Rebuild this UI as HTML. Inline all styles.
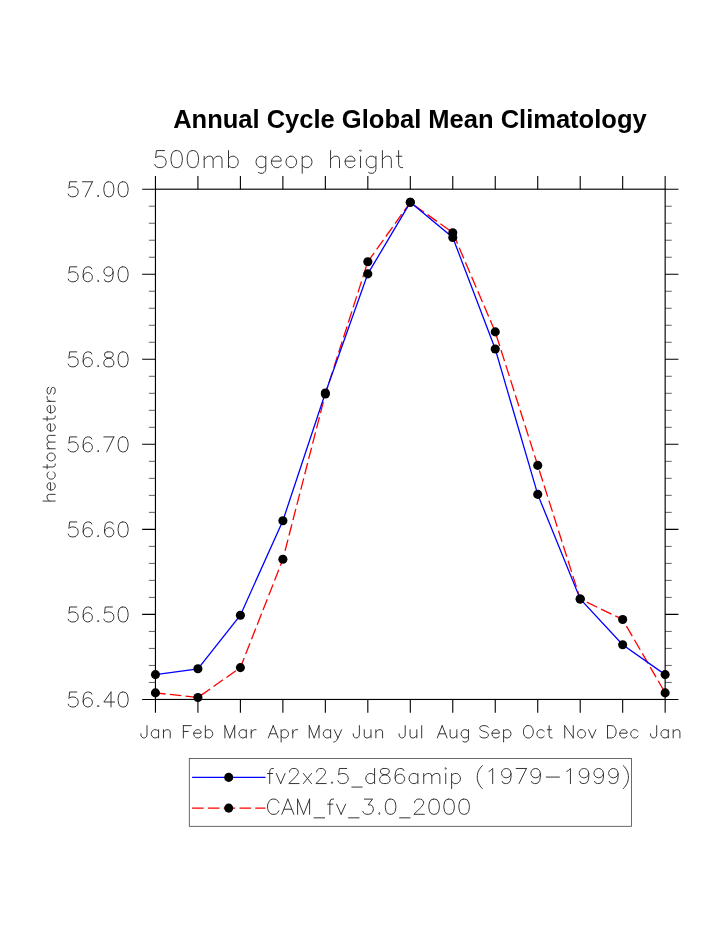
<!DOCTYPE html><html><head><meta charset="utf-8"><title>Annual Cycle Global Mean Climatology</title>
<style>html,body{margin:0;padding:0;background:#fff;}body{width:723px;height:935px;overflow:hidden;font-family:"Liberation Sans",sans-serif;}svg{display:block;will-change:transform;}</style></head><body>
<svg width="723" height="935" viewBox="0 0 723 935">
<rect width="723" height="935" fill="#fff"/>
<text x="409.9" y="128.3" text-anchor="middle" font-family="Liberation Sans, sans-serif" font-weight="bold" font-size="25.52" fill="#000">Annual Cycle Global Mean Climatology</text>
<path d="M155.45 206.21H148.85 M665.15 206.21H671.75M155.45 223.22H148.85 M665.15 223.22H671.75M155.45 240.22H148.85 M665.15 240.22H671.75M155.45 257.23H148.85 M665.15 257.23H671.75M155.45 291.25H148.85 M665.15 291.25H671.75M155.45 308.26H148.85 M665.15 308.26H671.75M155.45 325.27H148.85 M665.15 325.27H671.75M155.45 342.27H148.85 M665.15 342.27H671.75M155.45 376.29H148.85 M665.15 376.29H671.75M155.45 393.3H148.85 M665.15 393.3H671.75M155.45 410.31H148.85 M665.15 410.31H671.75M155.45 427.32H148.85 M665.15 427.32H671.75M155.45 461.33H148.85 M665.15 461.33H671.75M155.45 478.34H148.85 M665.15 478.34H671.75M155.45 495.35H148.85 M665.15 495.35H671.75M155.45 512.36H148.85 M665.15 512.36H671.75M155.45 546.38H148.85 M665.15 546.38H671.75M155.45 563.38H148.85 M665.15 563.38H671.75M155.45 580.39H148.85 M665.15 580.39H671.75M155.45 597.4H148.85 M665.15 597.4H671.75M155.45 631.42H148.85 M665.15 631.42H671.75M155.45 648.42H148.85 M665.15 648.42H671.75M155.45 665.43H148.85 M665.15 665.43H671.75M155.45 682.44H148.85 M665.15 682.44H671.75" stroke="#000" stroke-width="0.62" fill="none"/>
<path d="M155.45 189.2H142.15 M665.15 189.2H678.45M155.45 274.24H142.15 M665.15 274.24H678.45M155.45 359.28H142.15 M665.15 359.28H678.45M155.45 444.32H142.15 M665.15 444.32H678.45M155.45 529.37H142.15 M665.15 529.37H678.45M155.45 614.41H142.15 M665.15 614.41H678.45M155.45 699.45H142.15 M665.15 699.45H678.45M155.45 189.2V175.9 M155.45 699.45V712.75M197.92 189.2V175.9 M197.92 699.45V712.75M240.4 189.2V175.9 M240.4 699.45V712.75M282.88 189.2V175.9 M282.88 699.45V712.75M325.35 189.2V175.9 M325.35 699.45V712.75M367.82 189.2V175.9 M367.82 699.45V712.75M410.3 189.2V175.9 M410.3 699.45V712.75M452.77 189.2V175.9 M452.77 699.45V712.75M495.25 189.2V175.9 M495.25 699.45V712.75M537.73 189.2V175.9 M537.73 699.45V712.75M580.2 189.2V175.9 M580.2 699.45V712.75M622.67 189.2V175.9 M622.67 699.45V712.75M665.15 189.2V175.9 M665.15 699.45V712.75" stroke="#000" stroke-width="1.1" fill="none"/>
<rect x="155.45" y="189.2" width="509.7" height="510.25" fill="none" stroke="#000" stroke-width="1.15"/>
<polyline points="155.45,692.9 197.92,697.5 240.4,667.6 282.88,559.3 325.35,394 367.82,261.7 410.3,202.3 452.77,232.7 495.25,331.9 537.73,465.4 580.2,599 622.67,619.5 665.15,692.9" fill="none" stroke="#ff0000" stroke-width="1.3" stroke-dasharray="11.6 4.2" stroke-dashoffset="1.4"/>
<polyline points="155.45,674.6 197.92,668.8 240.4,615.2 282.88,520.7 325.35,393 367.82,273.9 410.3,202.3 452.77,237.5 495.25,349 537.73,494.4 580.2,599 622.67,644.7 665.15,674.6" fill="none" stroke="#0000ff" stroke-width="1.3"/>
<g fill="#000"><circle cx="155.45" cy="692.9" r="4.55"/><circle cx="197.92" cy="697.5" r="4.55"/><circle cx="240.4" cy="667.6" r="4.55"/><circle cx="282.88" cy="559.3" r="4.55"/><circle cx="325.35" cy="394" r="4.55"/><circle cx="367.82" cy="261.7" r="4.55"/><circle cx="410.3" cy="202.3" r="4.55"/><circle cx="452.77" cy="232.7" r="4.55"/><circle cx="495.25" cy="331.9" r="4.55"/><circle cx="537.73" cy="465.4" r="4.55"/><circle cx="580.2" cy="599" r="4.55"/><circle cx="622.67" cy="619.5" r="4.55"/><circle cx="665.15" cy="692.9" r="4.55"/><circle cx="155.45" cy="674.6" r="4.55"/><circle cx="197.92" cy="668.8" r="4.55"/><circle cx="240.4" cy="615.2" r="4.55"/><circle cx="282.88" cy="520.7" r="4.55"/><circle cx="325.35" cy="393" r="4.55"/><circle cx="367.82" cy="273.9" r="4.55"/><circle cx="410.3" cy="202.3" r="4.55"/><circle cx="452.77" cy="237.5" r="4.55"/><circle cx="495.25" cy="349" r="4.55"/><circle cx="537.73" cy="494.4" r="4.55"/><circle cx="580.2" cy="599" r="4.55"/><circle cx="622.67" cy="644.7" r="4.55"/><circle cx="665.15" cy="674.6" r="4.55"/></g>
<g fill="none" stroke="#2a2a2a" stroke-width="0.95" stroke-linecap="round" stroke-linejoin="round">
<g><title>500mb geop height</title><path d="M164.52 150.59 L156.42 150.59 L155.61 157.88 L156.42 157.07 L158.85 156.26 L161.28 156.26 L163.71 157.07 L165.33 158.69 L166.14 161.12 L166.14 162.74 L165.33 165.17 L163.71 166.79 L161.28 167.6 L158.85 167.6 L156.42 166.79 L155.61 165.98 L154.8 164.36M175.86 150.59 L173.43 151.4 L171.81 153.83 L171 157.88 L171 160.31 L171.81 164.36 L173.43 166.79 L175.86 167.6 L177.48 167.6 L179.91 166.79 L181.53 164.36 L182.34 160.31 L182.34 157.88 L181.53 153.83 L179.91 151.4 L177.48 150.59 L175.86 150.59M192.06 150.59 L189.63 151.4 L188.01 153.83 L187.2 157.88 L187.2 160.31 L188.01 164.36 L189.63 166.79 L192.06 167.6 L193.68 167.6 L196.11 166.79 L197.73 164.36 L198.54 160.31 L198.54 157.88 L197.73 153.83 L196.11 151.4 L193.68 150.59 L192.06 150.59M204.21 156.26 L204.21 167.6M204.21 159.5 L206.64 157.07 L208.26 156.26 L210.69 156.26 L212.31 157.07 L213.12 159.5 L213.12 167.6M213.12 159.5 L215.55 157.07 L217.17 156.26 L219.6 156.26 L221.22 157.07 L222.03 159.5 L222.03 167.6M228.51 150.59 L228.51 167.6M228.51 158.69 L230.13 157.07 L231.75 156.26 L234.18 156.26 L235.8 157.07 L237.42 158.69 L238.23 161.12 L238.23 162.74 L237.42 165.17 L235.8 166.79 L234.18 167.6 L231.75 167.6 L230.13 166.79 L228.51 165.17M265.77 156.26 L265.77 169.22 L264.96 171.65 L264.15 172.46 L262.53 173.27 L260.1 173.27 L258.48 172.46M265.77 158.69 L264.15 157.07 L262.53 156.26 L260.1 156.26 L258.48 157.07 L256.86 158.69 L256.05 161.12 L256.05 162.74 L256.86 165.17 L258.48 166.79 L260.1 167.6 L262.53 167.6 L264.15 166.79 L265.77 165.17M271.44 161.12 L281.16 161.12 L281.16 159.5 L280.35 157.88 L279.54 157.07 L277.92 156.26 L275.49 156.26 L273.87 157.07 L272.25 158.69 L271.44 161.12 L271.44 162.74 L272.25 165.17 L273.87 166.79 L275.49 167.6 L277.92 167.6 L279.54 166.79 L281.16 165.17M290.07 156.26 L288.45 157.07 L286.83 158.69 L286.02 161.12 L286.02 162.74 L286.83 165.17 L288.45 166.79 L290.07 167.6 L292.5 167.6 L294.12 166.79 L295.74 165.17 L296.55 162.74 L296.55 161.12 L295.74 158.69 L294.12 157.07 L292.5 156.26 L290.07 156.26M302.22 156.26 L302.22 173.27M302.22 158.69 L303.84 157.07 L305.46 156.26 L307.89 156.26 L309.51 157.07 L311.13 158.69 L311.94 161.12 L311.94 162.74 L311.13 165.17 L309.51 166.79 L307.89 167.6 L305.46 167.6 L303.84 166.79 L302.22 165.17M330.57 150.59 L330.57 167.6M330.57 159.5 L333 157.07 L334.62 156.26 L337.05 156.26 L338.67 157.07 L339.48 159.5 L339.48 167.6M345.15 161.12 L354.87 161.12 L354.87 159.5 L354.06 157.88 L353.25 157.07 L351.63 156.26 L349.2 156.26 L347.58 157.07 L345.96 158.69 L345.15 161.12 L345.15 162.74 L345.96 165.17 L347.58 166.79 L349.2 167.6 L351.63 167.6 L353.25 166.79 L354.87 165.17M359.73 150.59 L360.54 151.4 L361.35 150.59 L360.54 149.78 L359.73 150.59M360.54 156.26 L360.54 167.6M375.93 156.26 L375.93 169.22 L375.12 171.65 L374.31 172.46 L372.69 173.27 L370.26 173.27 L368.64 172.46M375.93 158.69 L374.31 157.07 L372.69 156.26 L370.26 156.26 L368.64 157.07 L367.02 158.69 L366.21 161.12 L366.21 162.74 L367.02 165.17 L368.64 166.79 L370.26 167.6 L372.69 167.6 L374.31 166.79 L375.93 165.17M382.41 150.59 L382.41 167.6M382.41 159.5 L384.84 157.07 L386.46 156.26 L388.89 156.26 L390.51 157.07 L391.32 159.5 L391.32 167.6M398.61 150.59 L398.61 164.36 L399.42 166.79 L401.04 167.6 L402.66 167.6M396.18 156.26 L401.85 156.26"/></g>
<g><title>57.00</title><path d="M76.76 181.78 L69.63 181.78 L68.92 188.19 L69.63 187.48 L71.77 186.77 L73.91 186.77 L76.05 187.48 L77.48 188.91 L78.19 191.05 L78.19 192.47 L77.48 194.61 L76.05 196.04 L73.91 196.75 L71.77 196.75 L69.63 196.04 L68.92 195.32 L68.21 193.9M92.45 181.78 L85.32 196.75M82.47 181.78 L92.45 181.78M98.15 195.32 L97.44 196.04 L98.15 196.75 L98.87 196.04 L98.15 195.32M108.14 181.78 L106 182.49 L104.57 184.63 L103.86 188.19 L103.86 190.33 L104.57 193.9 L106 196.04 L108.14 196.75 L109.56 196.75 L111.7 196.04 L113.13 193.9 L113.84 190.33 L113.84 188.19 L113.13 184.63 L111.7 182.49 L109.56 181.78 L108.14 181.78M122.4 181.78 L120.26 182.49 L118.83 184.63 L118.12 188.19 L118.12 190.33 L118.83 193.9 L120.26 196.04 L122.4 196.75 L123.82 196.75 L125.96 196.04 L127.39 193.9 L128.1 190.33 L128.1 188.19 L127.39 184.63 L125.96 182.49 L123.82 181.78 L122.4 181.78"/></g>
<g><title>56.90</title><path d="M76.76 266.82 L69.63 266.82 L68.92 273.24 L69.63 272.52 L71.77 271.81 L73.91 271.81 L76.05 272.52 L77.48 273.95 L78.19 276.09 L78.19 277.51 L77.48 279.65 L76.05 281.08 L73.91 281.79 L71.77 281.79 L69.63 281.08 L68.92 280.37 L68.21 278.94M91.74 268.96 L91.02 267.53 L88.88 266.82 L87.46 266.82 L85.32 267.53 L83.89 269.67 L83.18 273.24 L83.18 276.8 L83.89 279.65 L85.32 281.08 L87.46 281.79 L88.17 281.79 L90.31 281.08 L91.74 279.65 L92.45 277.51 L92.45 276.8 L91.74 274.66 L90.31 273.24 L88.17 272.52 L87.46 272.52 L85.32 273.24 L83.89 274.66 L83.18 276.8M98.15 280.37 L97.44 281.08 L98.15 281.79 L98.87 281.08 L98.15 280.37M113.13 271.81 L112.41 273.95 L110.99 275.37 L108.85 276.09 L108.14 276.09 L106 275.37 L104.57 273.95 L103.86 271.81 L103.86 271.1 L104.57 268.96 L106 267.53 L108.14 266.82 L108.85 266.82 L110.99 267.53 L112.41 268.96 L113.13 271.81 L113.13 275.37 L112.41 278.94 L110.99 281.08 L108.85 281.79 L107.42 281.79 L105.28 281.08 L104.57 279.65M122.4 266.82 L120.26 267.53 L118.83 269.67 L118.12 273.24 L118.12 275.37 L118.83 278.94 L120.26 281.08 L122.4 281.79 L123.82 281.79 L125.96 281.08 L127.39 278.94 L128.1 275.37 L128.1 273.24 L127.39 269.67 L125.96 267.53 L123.82 266.82 L122.4 266.82"/></g>
<g><title>56.80</title><path d="M76.76 351.86 L69.63 351.86 L68.92 358.28 L69.63 357.56 L71.77 356.85 L73.91 356.85 L76.05 357.56 L77.48 358.99 L78.19 361.13 L78.19 362.56 L77.48 364.69 L76.05 366.12 L73.91 366.83 L71.77 366.83 L69.63 366.12 L68.92 365.41 L68.21 363.98M91.74 354 L91.02 352.57 L88.88 351.86 L87.46 351.86 L85.32 352.57 L83.89 354.71 L83.18 358.28 L83.18 361.84 L83.89 364.69 L85.32 366.12 L87.46 366.83 L88.17 366.83 L90.31 366.12 L91.74 364.69 L92.45 362.56 L92.45 361.84 L91.74 359.7 L90.31 358.28 L88.17 357.56 L87.46 357.56 L85.32 358.28 L83.89 359.7 L83.18 361.84M98.15 365.41 L97.44 366.12 L98.15 366.83 L98.87 366.12 L98.15 365.41M107.42 351.86 L105.28 352.57 L104.57 354 L104.57 355.43 L105.28 356.85 L106.71 357.56 L109.56 358.28 L111.7 358.99 L113.13 360.42 L113.84 361.84 L113.84 363.98 L113.13 365.41 L112.41 366.12 L110.27 366.83 L107.42 366.83 L105.28 366.12 L104.57 365.41 L103.86 363.98 L103.86 361.84 L104.57 360.42 L106 358.99 L108.14 358.28 L110.99 357.56 L112.41 356.85 L113.13 355.43 L113.13 354 L112.41 352.57 L110.27 351.86 L107.42 351.86M122.4 351.86 L120.26 352.57 L118.83 354.71 L118.12 358.28 L118.12 360.42 L118.83 363.98 L120.26 366.12 L122.4 366.83 L123.82 366.83 L125.96 366.12 L127.39 363.98 L128.1 360.42 L128.1 358.28 L127.39 354.71 L125.96 352.57 L123.82 351.86 L122.4 351.86"/></g>
<g><title>56.70</title><path d="M76.76 436.9 L69.63 436.9 L68.92 443.32 L69.63 442.61 L71.77 441.89 L73.91 441.89 L76.05 442.61 L77.48 444.03 L78.19 446.17 L78.19 447.6 L77.48 449.74 L76.05 451.16 L73.91 451.88 L71.77 451.88 L69.63 451.16 L68.92 450.45 L68.21 449.02M91.74 439.04 L91.02 437.62 L88.88 436.9 L87.46 436.9 L85.32 437.62 L83.89 439.75 L83.18 443.32 L83.18 446.88 L83.89 449.74 L85.32 451.16 L87.46 451.88 L88.17 451.88 L90.31 451.16 L91.74 449.74 L92.45 447.6 L92.45 446.88 L91.74 444.75 L90.31 443.32 L88.17 442.61 L87.46 442.61 L85.32 443.32 L83.89 444.75 L83.18 446.88M98.15 450.45 L97.44 451.16 L98.15 451.88 L98.87 451.16 L98.15 450.45M113.84 436.9 L106.71 451.88M103.86 436.9 L113.84 436.9M122.4 436.9 L120.26 437.62 L118.83 439.75 L118.12 443.32 L118.12 445.46 L118.83 449.02 L120.26 451.16 L122.4 451.88 L123.82 451.88 L125.96 451.16 L127.39 449.02 L128.1 445.46 L128.1 443.32 L127.39 439.75 L125.96 437.62 L123.82 436.9 L122.4 436.9"/></g>
<g><title>56.60</title><path d="M76.76 521.94 L69.63 521.94 L68.92 528.36 L69.63 527.65 L71.77 526.93 L73.91 526.93 L76.05 527.65 L77.48 529.07 L78.19 531.21 L78.19 532.64 L77.48 534.78 L76.05 536.2 L73.91 536.92 L71.77 536.92 L69.63 536.2 L68.92 535.49 L68.21 534.06M91.74 524.08 L91.02 522.66 L88.88 521.94 L87.46 521.94 L85.32 522.66 L83.89 524.8 L83.18 528.36 L83.18 531.93 L83.89 534.78 L85.32 536.2 L87.46 536.92 L88.17 536.92 L90.31 536.2 L91.74 534.78 L92.45 532.64 L92.45 531.93 L91.74 529.79 L90.31 528.36 L88.17 527.65 L87.46 527.65 L85.32 528.36 L83.89 529.79 L83.18 531.93M98.15 535.49 L97.44 536.2 L98.15 536.92 L98.87 536.2 L98.15 535.49M113.13 524.08 L112.41 522.66 L110.27 521.94 L108.85 521.94 L106.71 522.66 L105.28 524.8 L104.57 528.36 L104.57 531.93 L105.28 534.78 L106.71 536.2 L108.85 536.92 L109.56 536.92 L111.7 536.2 L113.13 534.78 L113.84 532.64 L113.84 531.93 L113.13 529.79 L111.7 528.36 L109.56 527.65 L108.85 527.65 L106.71 528.36 L105.28 529.79 L104.57 531.93M122.4 521.94 L120.26 522.66 L118.83 524.8 L118.12 528.36 L118.12 530.5 L118.83 534.06 L120.26 536.2 L122.4 536.92 L123.82 536.92 L125.96 536.2 L127.39 534.06 L128.1 530.5 L128.1 528.36 L127.39 524.8 L125.96 522.66 L123.82 521.94 L122.4 521.94"/></g>
<g><title>56.50</title><path d="M76.76 606.99 L69.63 606.99 L68.92 613.4 L69.63 612.69 L71.77 611.98 L73.91 611.98 L76.05 612.69 L77.48 614.12 L78.19 616.25 L78.19 617.68 L77.48 619.82 L76.05 621.25 L73.91 621.96 L71.77 621.96 L69.63 621.25 L68.92 620.53 L68.21 619.11M91.74 609.12 L91.02 607.7 L88.88 606.99 L87.46 606.99 L85.32 607.7 L83.89 609.84 L83.18 613.4 L83.18 616.97 L83.89 619.82 L85.32 621.25 L87.46 621.96 L88.17 621.96 L90.31 621.25 L91.74 619.82 L92.45 617.68 L92.45 616.97 L91.74 614.83 L90.31 613.4 L88.17 612.69 L87.46 612.69 L85.32 613.4 L83.89 614.83 L83.18 616.97M98.15 620.53 L97.44 621.25 L98.15 621.96 L98.87 621.25 L98.15 620.53M112.41 606.99 L105.28 606.99 L104.57 613.4 L105.28 612.69 L107.42 611.98 L109.56 611.98 L111.7 612.69 L113.13 614.12 L113.84 616.25 L113.84 617.68 L113.13 619.82 L111.7 621.25 L109.56 621.96 L107.42 621.96 L105.28 621.25 L104.57 620.53 L103.86 619.11M122.4 606.99 L120.26 607.7 L118.83 609.84 L118.12 613.4 L118.12 615.54 L118.83 619.11 L120.26 621.25 L122.4 621.96 L123.82 621.96 L125.96 621.25 L127.39 619.11 L128.1 615.54 L128.1 613.4 L127.39 609.84 L125.96 607.7 L123.82 606.99 L122.4 606.99"/></g>
<g><title>56.40</title><path d="M76.76 692.03 L69.63 692.03 L68.92 698.44 L69.63 697.73 L71.77 697.02 L73.91 697.02 L76.05 697.73 L77.48 699.16 L78.19 701.3 L78.19 702.72 L77.48 704.86 L76.05 706.29 L73.91 707 L71.77 707 L69.63 706.29 L68.92 705.57 L68.21 704.15M91.74 694.17 L91.02 692.74 L88.88 692.03 L87.46 692.03 L85.32 692.74 L83.89 694.88 L83.18 698.44 L83.18 702.01 L83.89 704.86 L85.32 706.29 L87.46 707 L88.17 707 L90.31 706.29 L91.74 704.86 L92.45 702.72 L92.45 702.01 L91.74 699.87 L90.31 698.44 L88.17 697.73 L87.46 697.73 L85.32 698.44 L83.89 699.87 L83.18 702.01M98.15 705.57 L97.44 706.29 L98.15 707 L98.87 706.29 L98.15 705.57M110.99 692.03 L103.86 702.01 L114.55 702.01M110.99 692.03 L110.99 707M122.4 692.03 L120.26 692.74 L118.83 694.88 L118.12 698.44 L118.12 700.58 L118.83 704.15 L120.26 706.29 L122.4 707 L123.82 707 L125.96 706.29 L127.39 704.15 L128.1 700.58 L128.1 698.44 L127.39 694.88 L125.96 692.74 L123.82 692.03 L122.4 692.03"/></g>
<g><title>Jan</title><path d="M147 725.64 L147 734.98 L146.38 736.73 L145.77 737.32 L144.55 737.9 L143.33 737.9 L142.11 737.32 L141.5 736.73 L140.89 734.98 L140.89 733.81M158.6 729.72 L158.6 737.9M158.6 731.48 L157.38 730.31 L156.16 729.72 L154.33 729.72 L153.11 730.31 L151.88 731.48 L151.27 733.23 L151.27 734.4 L151.88 736.15 L153.11 737.32 L154.33 737.9 L156.16 737.9 L157.38 737.32 L158.6 736.15M163.49 729.72 L163.49 737.9M163.49 732.06 L165.33 730.31 L166.55 729.72 L168.38 729.72 L169.6 730.31 L170.21 732.06 L170.21 737.9"/></g>
<g><title>Feb</title><path d="M183.36 725.64 L183.36 737.9M183.36 725.64 L191.3 725.64M183.36 731.48 L188.25 731.48M193.75 733.23 L201.08 733.23 L201.08 732.06 L200.47 730.89 L199.86 730.31 L198.64 729.72 L196.8 729.72 L195.58 730.31 L194.36 731.48 L193.75 733.23 L193.75 734.4 L194.36 736.15 L195.58 737.32 L196.8 737.9 L198.64 737.9 L199.86 737.32 L201.08 736.15M205.36 725.64 L205.36 737.9M205.36 731.48 L206.58 730.31 L207.8 729.72 L209.63 729.72 L210.86 730.31 L212.08 731.48 L212.69 733.23 L212.69 734.4 L212.08 736.15 L210.86 737.32 L209.63 737.9 L207.8 737.9 L206.58 737.32 L205.36 736.15"/></g>
<g><title>Mar</title><path d="M224.92 725.64 L224.92 737.9M224.92 725.64 L229.81 737.9M234.7 725.64 L229.81 737.9M234.7 725.64 L234.7 737.9M246.3 729.72 L246.3 737.9M246.3 731.48 L245.08 730.31 L243.86 729.72 L242.03 729.72 L240.81 730.31 L239.58 731.48 L238.97 733.23 L238.97 734.4 L239.58 736.15 L240.81 737.32 L242.03 737.9 L243.86 737.9 L245.08 737.32 L246.3 736.15M251.19 729.72 L251.19 737.9M251.19 733.23 L251.8 731.48 L253.03 730.31 L254.25 729.72 L256.08 729.72"/></g>
<g><title>Apr</title><path d="M273.2 725.64 L268.31 737.9M273.2 725.64 L278.09 737.9M270.14 733.81 L276.25 733.81M281.14 729.72 L281.14 741.99M281.14 731.48 L282.36 730.31 L283.59 729.72 L285.42 729.72 L286.64 730.31 L287.86 731.48 L288.47 733.23 L288.47 734.4 L287.86 736.15 L286.64 737.32 L285.42 737.9 L283.59 737.9 L282.36 737.32 L281.14 736.15M292.75 729.72 L292.75 737.9M292.75 733.23 L293.36 731.48 L294.58 730.31 L295.81 729.72 L297.64 729.72"/></g>
<g><title>May</title><path d="M309.26 725.64 L309.26 737.9M309.26 725.64 L314.15 737.9M319.03 725.64 L314.15 737.9M319.03 725.64 L319.03 737.9M330.64 729.72 L330.64 737.9M330.64 731.48 L329.42 730.31 L328.2 729.72 L326.37 729.72 L325.14 730.31 L323.92 731.48 L323.31 733.23 L323.31 734.4 L323.92 736.15 L325.14 737.32 L326.37 737.9 L328.2 737.9 L329.42 737.32 L330.64 736.15M334.31 729.72 L337.98 737.9M341.64 729.72 L337.98 737.9 L336.75 740.24 L335.53 741.4 L334.31 741.99 L333.7 741.99"/></g>
<g><title>Jun</title><path d="M359.37 725.64 L359.37 734.98 L358.76 736.73 L358.15 737.32 L356.93 737.9 L355.7 737.9 L354.48 737.32 L353.87 736.73 L353.26 734.98 L353.26 733.81M364.26 729.72 L364.26 735.56 L364.87 737.32 L366.09 737.9 L367.93 737.9 L369.15 737.32 L370.98 735.56M370.98 729.72 L370.98 737.9M375.87 729.72 L375.87 737.9M375.87 732.06 L377.7 730.31 L378.92 729.72 L380.76 729.72 L381.98 730.31 L382.59 732.06 L382.59 737.9"/></g>
<g><title>Jul</title><path d="M405.21 725.64 L405.21 734.98 L404.6 736.73 L403.98 737.32 L402.76 737.9 L401.54 737.9 L400.32 737.32 L399.71 736.73 L399.1 734.98 L399.1 733.81M410.09 729.72 L410.09 735.56 L410.71 737.32 L411.93 737.9 L413.76 737.9 L414.98 737.32 L416.82 735.56M416.82 729.72 L416.82 737.9M421.7 725.64 L421.7 737.9"/></g>
<g><title>Aug</title><path d="M442.18 725.64 L437.29 737.9M442.18 725.64 L447.07 737.9M439.13 733.81 L445.24 733.81M450.13 729.72 L450.13 735.56 L450.74 737.32 L451.96 737.9 L453.79 737.9 L455.01 737.32 L456.85 735.56M456.85 729.72 L456.85 737.9M468.46 729.72 L468.46 739.07 L467.84 740.82 L467.23 741.4 L466.01 741.99 L464.18 741.99 L462.96 741.4M468.46 731.48 L467.23 730.31 L466.01 729.72 L464.18 729.72 L462.96 730.31 L461.73 731.48 L461.12 733.23 L461.12 734.4 L461.73 736.15 L462.96 737.32 L464.18 737.9 L466.01 737.9 L467.23 737.32 L468.46 736.15"/></g>
<g><title>Sep</title><path d="M488.32 727.39 L487.1 726.22 L485.27 725.64 L482.82 725.64 L480.99 726.22 L479.77 727.39 L479.77 728.56 L480.38 729.72 L480.99 730.31 L482.21 730.89 L485.88 732.06 L487.1 732.64 L487.71 733.23 L488.32 734.4 L488.32 736.15 L487.1 737.32 L485.27 737.9 L482.82 737.9 L480.99 737.32 L479.77 736.15M491.99 733.23 L499.32 733.23 L499.32 732.06 L498.71 730.89 L498.1 730.31 L496.88 729.72 L495.04 729.72 L493.82 730.31 L492.6 731.48 L491.99 733.23 L491.99 734.4 L492.6 736.15 L493.82 737.32 L495.04 737.9 L496.88 737.9 L498.1 737.32 L499.32 736.15M503.6 729.72 L503.6 741.99M503.6 731.48 L504.82 730.31 L506.04 729.72 L507.88 729.72 L509.1 730.31 L510.32 731.48 L510.93 733.23 L510.93 734.4 L510.32 736.15 L509.1 737.32 L507.88 737.9 L506.04 737.9 L504.82 737.32 L503.6 736.15"/></g>
<g><title>Oct</title><path d="M527.13 725.64 L525.91 726.22 L524.69 727.39 L524.08 728.56 L523.47 730.31 L523.47 733.23 L524.08 734.98 L524.69 736.15 L525.91 737.32 L527.13 737.9 L529.58 737.9 L530.8 737.32 L532.02 736.15 L532.63 734.98 L533.24 733.23 L533.24 730.31 L532.63 728.56 L532.02 727.39 L530.8 726.22 L529.58 725.64 L527.13 725.64M544.24 731.48 L543.02 730.31 L541.8 729.72 L539.96 729.72 L538.74 730.31 L537.52 731.48 L536.91 733.23 L536.91 734.4 L537.52 736.15 L538.74 737.32 L539.96 737.9 L541.8 737.9 L543.02 737.32 L544.24 736.15M549.13 725.64 L549.13 735.56 L549.74 737.32 L550.96 737.9 L552.18 737.9M547.3 729.72 L551.57 729.72"/></g>
<g><title>Nov</title><path d="M564.72 725.64 L564.72 737.9M564.72 725.64 L573.27 737.9M573.27 725.64 L573.27 737.9M580.61 729.72 L579.38 730.31 L578.16 731.48 L577.55 733.23 L577.55 734.4 L578.16 736.15 L579.38 737.32 L580.61 737.9 L582.44 737.9 L583.66 737.32 L584.88 736.15 L585.49 734.4 L585.49 733.23 L584.88 731.48 L583.66 730.31 L582.44 729.72 L580.61 729.72M588.55 729.72 L592.21 737.9M595.88 729.72 L592.21 737.9"/></g>
<g><title>Dec</title><path d="M607.5 725.64 L607.5 737.9M607.5 725.64 L611.78 725.64 L613.61 726.22 L614.83 727.39 L615.44 728.56 L616.05 730.31 L616.05 733.23 L615.44 734.98 L614.83 736.15 L613.61 737.32 L611.78 737.9 L607.5 737.9M619.72 733.23 L627.05 733.23 L627.05 732.06 L626.44 730.89 L625.83 730.31 L624.61 729.72 L622.77 729.72 L621.55 730.31 L620.33 731.48 L619.72 733.23 L619.72 734.4 L620.33 736.15 L621.55 737.32 L622.77 737.9 L624.61 737.9 L625.83 737.32 L627.05 736.15M638.05 731.48 L636.83 730.31 L635.61 729.72 L633.77 729.72 L632.55 730.31 L631.33 731.48 L630.72 733.23 L630.72 734.4 L631.33 736.15 L632.55 737.32 L633.77 737.9 L635.61 737.9 L636.83 737.32 L638.05 736.15"/></g>
<g><title>Jan</title><path d="M656.7 725.64 L656.7 734.98 L656.09 736.73 L655.47 737.32 L654.25 737.9 L653.03 737.9 L651.81 737.32 L651.2 736.73 L650.59 734.98 L650.59 733.81M668.31 729.72 L668.31 737.9M668.31 731.48 L667.08 730.31 L665.86 729.72 L664.03 729.72 L662.81 730.31 L661.58 731.48 L660.97 733.23 L660.97 734.4 L661.58 736.15 L662.81 737.32 L664.03 737.9 L665.86 737.9 L667.08 737.32 L668.31 736.15M673.19 729.72 L673.19 737.9M673.19 732.06 L675.03 730.31 L676.25 729.72 L678.08 729.72 L679.3 730.31 L679.91 732.06 L679.91 737.9"/></g>
<g><title>hectometers</title><path d="M43.06 501.05 L55.2 501.05M49.42 501.05 L47.69 499.22 L47.11 498.01 L47.11 496.18 L47.69 494.97 L49.42 494.36 L55.2 494.36M50.58 490.1 L50.58 482.81 L49.42 482.81 L48.26 483.42 L47.69 484.02 L47.11 485.24 L47.11 487.06 L47.69 488.28 L48.84 489.5 L50.58 490.1 L51.73 490.1 L53.47 489.5 L54.62 488.28 L55.2 487.06 L55.2 485.24 L54.62 484.02 L53.47 482.81M48.84 471.86 L47.69 473.08 L47.11 474.3 L47.11 476.12 L47.69 477.34 L48.84 478.55 L50.58 479.16 L51.73 479.16 L53.47 478.55 L54.62 477.34 L55.2 476.12 L55.2 474.3 L54.62 473.08 L53.47 471.86M43.06 467 L52.89 467 L54.62 466.39 L55.2 465.18 L55.2 463.96M47.11 468.82 L47.11 464.57M47.11 457.88 L47.69 459.1 L48.84 460.31 L50.58 460.92 L51.73 460.92 L53.47 460.31 L54.62 459.1 L55.2 457.88 L55.2 456.06 L54.62 454.84 L53.47 453.62 L51.73 453.02 L50.58 453.02 L48.84 453.62 L47.69 454.84 L47.11 456.06 L47.11 457.88M47.11 448.76 L55.2 448.76M49.42 448.76 L47.69 446.94 L47.11 445.72 L47.11 443.9 L47.69 442.68 L49.42 442.07 L55.2 442.07M49.42 442.07 L47.69 440.25 L47.11 439.03 L47.11 437.21 L47.69 435.99 L49.42 435.38 L55.2 435.38M50.58 431.13 L50.58 423.83 L49.42 423.83 L48.26 424.44 L47.69 425.05 L47.11 426.26 L47.11 428.09 L47.69 429.3 L48.84 430.52 L50.58 431.13 L51.73 431.13 L53.47 430.52 L54.62 429.3 L55.2 428.09 L55.2 426.26 L54.62 425.05 L53.47 423.83M43.06 418.97 L52.89 418.97 L54.62 418.36 L55.2 417.14 L55.2 415.93M47.11 420.79 L47.11 416.54M50.58 412.89 L50.58 405.59 L49.42 405.59 L48.26 406.2 L47.69 406.81 L47.11 408.02 L47.11 409.85 L47.69 411.06 L48.84 412.28 L50.58 412.89 L51.73 412.89 L53.47 412.28 L54.62 411.06 L55.2 409.85 L55.2 408.02 L54.62 406.81 L53.47 405.59M47.11 401.34 L55.2 401.34M50.58 401.34 L48.84 400.73 L47.69 399.51 L47.11 398.3 L47.11 396.47M48.84 387.35 L47.69 387.96 L47.11 389.78 L47.11 391.61 L47.69 393.43 L48.84 394.04 L50 393.43 L50.58 392.22 L51.15 389.18 L51.73 387.96 L52.89 387.35 L53.47 387.35 L54.62 387.96 L55.2 389.78 L55.2 391.61 L54.62 393.43 L53.47 394.04"/></g>
<g><title>fv2x2.5_d86amip (1979-1999)</title><path d="M273.37 768.47 L271.9 768.47 L270.43 769.19 L269.7 771.34 L269.7 783.55M267.5 773.5 L272.63 773.5M276.3 773.5 L280.7 783.55M285.1 773.5 L280.7 783.55M289.5 772.06 L289.5 771.34 L290.24 769.91 L290.97 769.19 L292.44 768.47 L295.37 768.47 L296.84 769.19 L297.57 769.91 L298.31 771.34 L298.31 772.78 L297.57 774.22 L296.11 776.37 L288.77 783.55 L299.04 783.55M303.44 773.5 L311.51 783.55M311.51 773.5 L303.44 783.55M316.64 772.06 L316.64 771.34 L317.38 769.91 L318.11 769.19 L319.58 768.47 L322.51 768.47 L323.98 769.19 L324.71 769.91 L325.45 771.34 L325.45 772.78 L324.71 774.22 L323.25 776.37 L315.91 783.55 L326.18 783.55M332.05 782.11 L331.31 782.83 L332.05 783.55 L332.78 782.83 L332.05 782.11M346.72 768.47 L339.38 768.47 L338.65 774.93 L339.38 774.22 L341.58 773.5 L343.78 773.5 L345.98 774.22 L347.45 775.65 L348.19 777.81 L348.19 779.24 L347.45 781.4 L345.98 782.83 L343.78 783.55 L341.58 783.55 L339.38 782.83 L338.65 782.11 L337.92 780.68M351.85 787.07 L362.12 787.07M374.59 768.47 L374.59 783.55M374.59 775.65 L373.12 774.22 L371.66 773.5 L369.46 773.5 L367.99 774.22 L366.52 775.65 L365.79 777.81 L365.79 779.24 L366.52 781.4 L367.99 782.83 L369.46 783.55 L371.66 783.55 L373.12 782.83 L374.59 781.4M383.39 768.47 L381.19 769.19 L380.46 770.63 L380.46 772.06 L381.19 773.5 L382.66 774.22 L385.59 774.93 L387.79 775.65 L389.26 777.09 L389.99 778.52 L389.99 780.68 L389.26 782.11 L388.53 782.83 L386.33 783.55 L383.39 783.55 L381.19 782.83 L380.46 782.11 L379.73 780.68 L379.73 778.52 L380.46 777.09 L381.93 775.65 L384.13 774.93 L387.06 774.22 L388.53 773.5 L389.26 772.06 L389.26 770.63 L388.53 769.19 L386.33 768.47 L383.39 768.47M403.93 770.63 L403.2 769.19 L401 768.47 L399.53 768.47 L397.33 769.19 L395.86 771.34 L395.13 774.93 L395.13 778.52 L395.86 781.4 L397.33 782.83 L399.53 783.55 L400.26 783.55 L402.46 782.83 L403.93 781.4 L404.66 779.24 L404.66 778.52 L403.93 776.37 L402.46 774.93 L400.26 774.22 L399.53 774.22 L397.33 774.93 L395.86 776.37 L395.13 778.52M417.87 773.5 L417.87 783.55M417.87 775.65 L416.4 774.22 L414.93 773.5 L412.73 773.5 L411.27 774.22 L409.8 775.65 L409.07 777.81 L409.07 779.24 L409.8 781.4 L411.27 782.83 L412.73 783.55 L414.93 783.55 L416.4 782.83 L417.87 781.4M423.74 773.5 L423.74 783.55M423.74 776.37 L425.94 774.22 L427.4 773.5 L429.6 773.5 L431.07 774.22 L431.8 776.37 L431.8 783.55M431.8 776.37 L434 774.22 L435.47 773.5 L437.67 773.5 L439.14 774.22 L439.87 776.37 L439.87 783.55M445.01 768.47 L445.74 769.19 L446.47 768.47 L445.74 767.75 L445.01 768.47M445.74 773.5 L445.74 783.55M451.61 773.5 L451.61 788.58M451.61 775.65 L453.08 774.22 L454.54 773.5 L456.74 773.5 L458.21 774.22 L459.68 775.65 L460.41 777.81 L460.41 779.24 L459.68 781.4 L458.21 782.83 L456.74 783.55 L454.54 783.55 L453.08 782.83 L451.61 781.4M482.42 765.6 L480.95 767.04 L479.48 769.19 L478.01 772.06 L477.28 775.65 L477.28 778.52 L478.01 782.11 L479.48 784.99 L480.95 787.14 L482.42 788.58M489.02 771.34 L490.48 770.63 L492.68 768.47 L492.68 783.55M511.02 773.5 L510.29 775.65 L508.82 777.09 L506.62 777.81 L505.89 777.81 L503.69 777.09 L502.22 775.65 L501.49 773.5 L501.49 772.78 L502.22 770.63 L503.69 769.19 L505.89 768.47 L506.62 768.47 L508.82 769.19 L510.29 770.63 L511.02 773.5 L511.02 777.09 L510.29 780.68 L508.82 782.83 L506.62 783.55 L505.15 783.55 L502.95 782.83 L502.22 781.4M526.43 768.47 L519.09 783.55M516.16 768.47 L526.43 768.47M540.36 773.5 L539.63 775.65 L538.16 777.09 L535.96 777.81 L535.23 777.81 L533.03 777.09 L531.56 775.65 L530.83 773.5 L530.83 772.78 L531.56 770.63 L533.03 769.19 L535.23 768.47 L535.96 768.47 L538.16 769.19 L539.63 770.63 L540.36 773.5 L540.36 777.09 L539.63 780.68 L538.16 782.83 L535.96 783.55 L534.49 783.55 L532.29 782.83 L531.56 781.4M546.23 777.09 L559.43 777.09M566.77 771.34 L568.24 770.63 L570.44 768.47 L570.44 783.55M588.77 773.5 L588.04 775.65 L586.57 777.09 L584.37 777.81 L583.64 777.81 L581.44 777.09 L579.97 775.65 L579.24 773.5 L579.24 772.78 L579.97 770.63 L581.44 769.19 L583.64 768.47 L584.37 768.47 L586.57 769.19 L588.04 770.63 L588.77 773.5 L588.77 777.09 L588.04 780.68 L586.57 782.83 L584.37 783.55 L582.9 783.55 L580.7 782.83 L579.97 781.4M603.44 773.5 L602.71 775.65 L601.24 777.09 L599.04 777.81 L598.31 777.81 L596.11 777.09 L594.64 775.65 L593.91 773.5 L593.91 772.78 L594.64 770.63 L596.11 769.19 L598.31 768.47 L599.04 768.47 L601.24 769.19 L602.71 770.63 L603.44 773.5 L603.44 777.09 L602.71 780.68 L601.24 782.83 L599.04 783.55 L597.58 783.55 L595.37 782.83 L594.64 781.4M618.11 773.5 L617.38 775.65 L615.91 777.09 L613.71 777.81 L612.98 777.81 L610.78 777.09 L609.31 775.65 L608.58 773.5 L608.58 772.78 L609.31 770.63 L610.78 769.19 L612.98 768.47 L613.71 768.47 L615.91 769.19 L617.38 770.63 L618.11 773.5 L618.11 777.09 L617.38 780.68 L615.91 782.83 L613.71 783.55 L612.25 783.55 L610.04 782.83 L609.31 781.4M623.25 765.6 L624.71 767.04 L626.18 769.19 L627.65 772.06 L628.38 775.65 L628.38 778.52 L627.65 782.11 L626.18 784.99 L624.71 787.14 L623.25 788.58"/></g>
<g><title>CAM_fv_3.0_2000</title><path d="M278.85 802.73 L278.1 801.29 L276.6 799.84 L275.1 799.12 L272.1 799.12 L270.6 799.84 L269.1 801.29 L268.35 802.73 L267.6 804.9 L267.6 808.52 L268.35 810.68 L269.1 812.13 L270.6 813.58 L272.1 814.3 L275.1 814.3 L276.6 813.58 L278.1 812.13 L278.85 810.68M287.85 799.12 L281.85 814.3M287.85 799.12 L293.85 814.3M284.1 809.24 L291.6 809.24M297.6 799.12 L297.6 814.3M297.6 799.12 L303.6 814.3M309.6 799.12 L303.6 814.3M309.6 799.12 L309.6 814.3M314.1 817.84 L324.6 817.84M333.6 799.12 L332.1 799.12 L330.6 799.84 L329.85 802.01 L329.85 814.3M327.6 804.18 L332.85 804.18M336.6 804.18 L341.1 814.3M345.6 804.18 L341.1 814.3M348.6 817.84 L359.1 817.84M364.35 799.12 L372.6 799.12 L368.1 804.9 L370.35 804.9 L371.85 805.62 L372.6 806.35 L373.35 808.52 L373.35 809.96 L372.6 812.13 L371.1 813.58 L368.85 814.3 L366.6 814.3 L364.35 813.58 L363.6 812.85 L362.85 811.41M379.35 812.85 L378.6 813.58 L379.35 814.3 L380.1 813.58 L379.35 812.85M389.85 799.12 L387.6 799.84 L386.1 802.01 L385.35 805.62 L385.35 807.79 L386.1 811.41 L387.6 813.58 L389.85 814.3 L391.35 814.3 L393.6 813.58 L395.1 811.41 L395.85 807.79 L395.85 805.62 L395.1 802.01 L393.6 799.84 L391.35 799.12 L389.85 799.12M399.6 817.84 L410.1 817.84M414.6 802.73 L414.6 802.01 L415.35 800.56 L416.1 799.84 L417.6 799.12 L420.6 799.12 L422.1 799.84 L422.85 800.56 L423.6 802.01 L423.6 803.45 L422.85 804.9 L421.35 807.07 L413.85 814.3 L424.35 814.3M433.35 799.12 L431.1 799.84 L429.6 802.01 L428.85 805.62 L428.85 807.79 L429.6 811.41 L431.1 813.58 L433.35 814.3 L434.85 814.3 L437.1 813.58 L438.6 811.41 L439.35 807.79 L439.35 805.62 L438.6 802.01 L437.1 799.84 L434.85 799.12 L433.35 799.12M448.35 799.12 L446.1 799.84 L444.6 802.01 L443.85 805.62 L443.85 807.79 L444.6 811.41 L446.1 813.58 L448.35 814.3 L449.85 814.3 L452.1 813.58 L453.6 811.41 L454.35 807.79 L454.35 805.62 L453.6 802.01 L452.1 799.84 L449.85 799.12 L448.35 799.12M463.35 799.12 L461.1 799.84 L459.6 802.01 L458.85 805.62 L458.85 807.79 L459.6 811.41 L461.1 813.58 L463.35 814.3 L464.85 814.3 L467.1 813.58 L468.6 811.41 L469.35 807.79 L469.35 805.62 L468.6 802.01 L467.1 799.84 L464.85 799.12 L463.35 799.12"/></g>
</g>
<rect x="189.3" y="758.4" width="442.1" height="67.9" fill="none" stroke="#444" stroke-width="0.8"/>
<path d="M192.1 808.1H265.5" stroke="#ff0000" stroke-width="1.3" stroke-dasharray="11.6 4.2" fill="none"/>
<path d="M192.1 777.4H265.5" stroke="#0000ff" stroke-width="1.3" fill="none"/>
<circle cx="228.7" cy="777.4" r="4.55" fill="#000"/><circle cx="228.7" cy="808.1" r="4.55" fill="#000"/>
</svg></body></html>
